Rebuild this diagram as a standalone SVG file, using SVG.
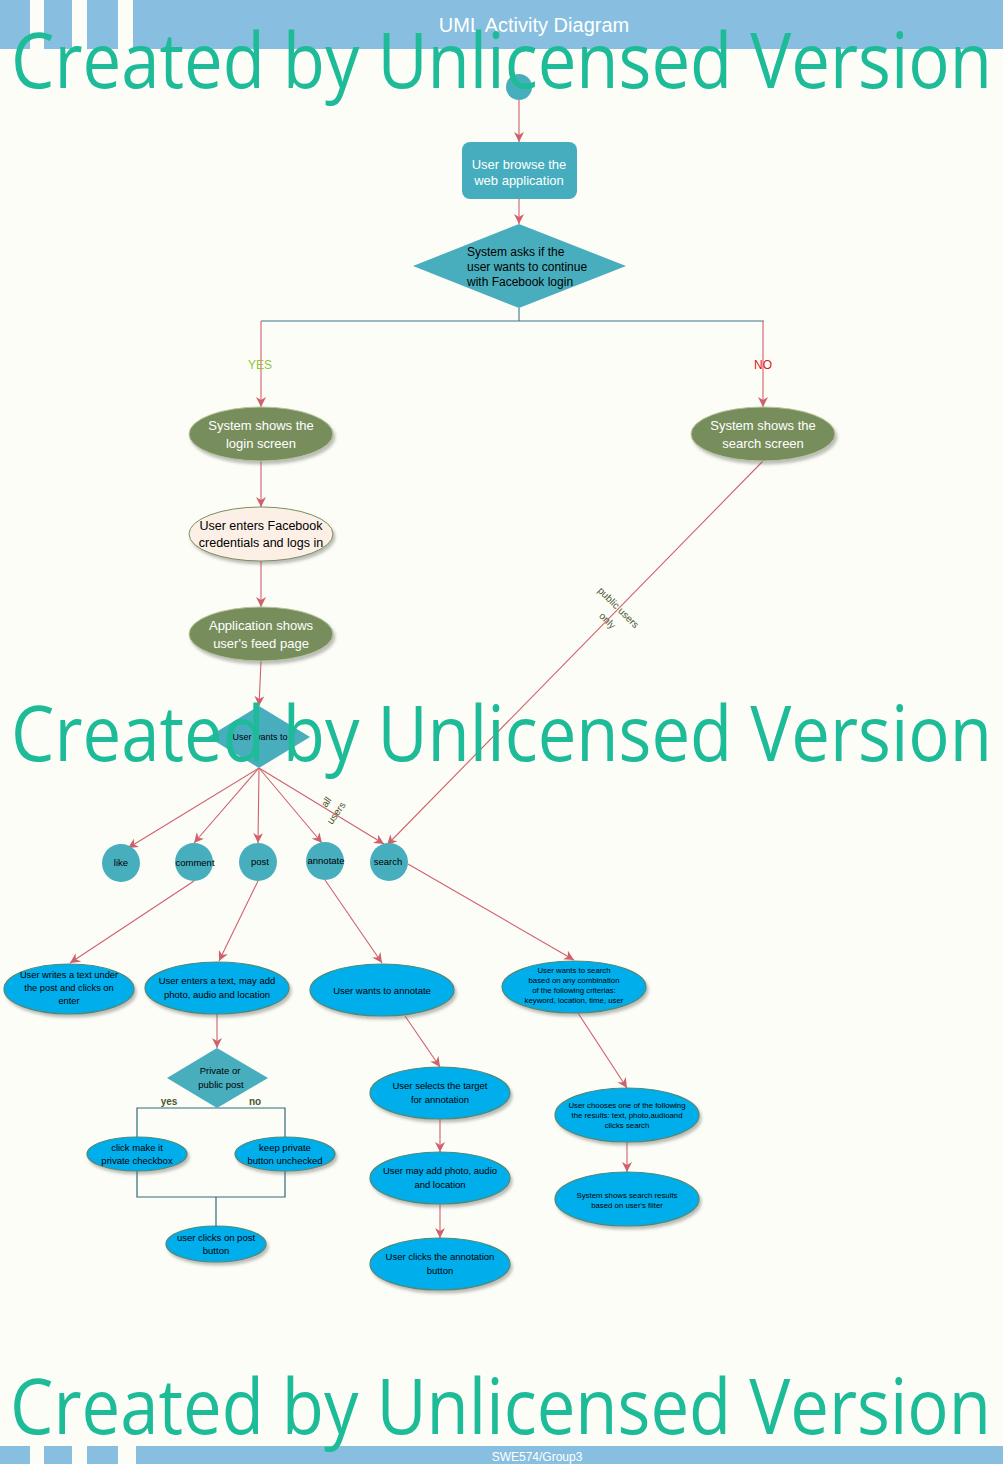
<svg xmlns="http://www.w3.org/2000/svg" width="1003" height="1464" viewBox="0 0 1003 1464">
<defs>
<marker id="ar" viewBox="0 0 10 10" refX="10" refY="5" markerWidth="10" markerHeight="10" markerUnits="userSpaceOnUse" orient="auto">
<path d="M0,0 L10,5 L0,10 L3,5 Z" fill="#D0606C"/>
</marker>
<filter id="sh" x="-20%" y="-20%" width="140%" height="150%">
<feDropShadow dx="2" dy="3" stdDeviation="1.5" flood-color="#707070" flood-opacity="0.45"/>
</filter>
</defs>
<style>
.bg{fill:#FDFDF7}
.band{fill:#88BFE0}
.wm{font-family:"Open Sans","Noto Sans",sans-serif;font-size:76px;fill:#1DBB98}
.ln{stroke:#D0606C;stroke-width:1.1;fill:none}
.bl{stroke:#3C7590;stroke-width:1.1;fill:none}
.tl{stroke:#2E6A7A;stroke-width:1.2;fill:none}
.olive{fill:#778E5C;stroke:#B7C49E;stroke-width:1;filter:url(#sh)}
.cream{fill:#FBEFE6;stroke:#7A8F5C;stroke-width:1;filter:url(#sh)}
.blue{fill:#03AEEC;stroke:#4D8A78;stroke-width:1.2;filter:url(#sh)}
.teal{fill:#47AEBE}
.tw{font-family:"Liberation Sans",Arial,sans-serif;fill:#FFFFFF;text-anchor:middle}
.tb{font-family:"Liberation Sans",Arial,sans-serif;fill:#000000;text-anchor:middle}
.lab{font-family:"Liberation Sans",Arial,sans-serif;font-size:10px;fill:#4A5530;text-anchor:middle}
</style>
<rect class="bg" x="0" y="0" width="1003" height="1464"/>
<!-- header -->
<rect class="band" x="0" y="0" width="1003" height="49"/>
<rect fill="#FDFDF7" x="30" y="0" width="14" height="49"/>
<rect fill="#FDFDF7" x="72" y="0" width="15" height="49"/>
<rect fill="#FDFDF7" x="118" y="0" width="15" height="49"/>
<text x="534" y="32" font-family="Liberation Sans, Arial, sans-serif" font-size="20" fill="#FFFFFF" text-anchor="middle">UML Activity Diagram</text>
<!-- footer -->
<rect class="band" x="0" y="1446" width="30" height="18"/>
<rect class="band" x="44" y="1446" width="28" height="18"/>
<rect class="band" x="87" y="1446" width="31" height="18"/>
<rect class="band" x="136" y="1446" width="867" height="18"/>
<text x="537" y="1461" font-family="Liberation Sans, Arial, sans-serif" font-size="12" fill="#FFFFFF" text-anchor="middle">SWE574/Group3</text>

<g id="connectors">
<line class="ln" x1="519" y1="100" x2="519" y2="142" marker-end="url(#ar)"/>
<line class="ln" x1="519" y1="199" x2="519" y2="224" marker-end="url(#ar)"/>
<polyline class="bl" points="519,308 519,321"/>
<line class="bl" x1="261" y1="321" x2="764" y2="321"/>
<line class="ln" x1="261" y1="321" x2="261" y2="407" marker-end="url(#ar)"/>
<line class="ln" x1="763" y1="321" x2="763" y2="407" marker-end="url(#ar)"/>
<text x="260" y="369" font-family="Liberation Sans, Arial, sans-serif" font-size="12" fill="#8CC63F" text-anchor="middle">YES</text>
<text x="763" y="369" font-family="Liberation Sans, Arial, sans-serif" font-size="12" fill="#E01818" text-anchor="middle">NO</text>
<line class="ln" x1="261" y1="461" x2="261" y2="507" marker-end="url(#ar)"/>
<line class="ln" x1="261" y1="561" x2="261" y2="607" marker-end="url(#ar)"/>
<line class="ln" x1="261" y1="661" x2="259" y2="706" marker-end="url(#ar)"/>
<line class="ln" x1="763" y1="461" x2="387" y2="845" marker-end="url(#ar)"/>
<text class="lab" transform="translate(616,610) rotate(45)">public users</text>
<text class="lab" transform="translate(605,623) rotate(45)">only</text>
<line class="ln" x1="259" y1="768" x2="128" y2="848" marker-end="url(#ar)"/>
<line class="ln" x1="259" y1="768" x2="194" y2="843" marker-end="url(#ar)"/>
<line class="ln" x1="259" y1="768" x2="258" y2="843" marker-end="url(#ar)"/>
<line class="ln" x1="259" y1="768" x2="322" y2="843" marker-end="url(#ar)"/>
<line class="ln" x1="259" y1="768" x2="384" y2="844" marker-end="url(#ar)"/>
<text class="lab" transform="translate(329,804) rotate(-55)">all</text>
<text class="lab" transform="translate(339,815) rotate(-55)">users</text>
<line class="ln" x1="194" y1="881" x2="70" y2="963" marker-end="url(#ar)"/>
<line class="ln" x1="258" y1="881" x2="219" y2="961" marker-end="url(#ar)"/>
<line class="ln" x1="325" y1="880" x2="382" y2="963" marker-end="url(#ar)"/>
<line class="ln" x1="408" y1="864" x2="574" y2="960" marker-end="url(#ar)"/>
<line class="ln" x1="217" y1="1014" x2="217" y2="1048" marker-end="url(#ar)"/>
<polyline class="tl" points="137,1138 137,1108 285,1108 285,1138"/>
<polyline class="tl" points="137,1171 137,1197 285,1197 285,1171"/>
<line class="tl" x1="216" y1="1197" x2="216" y2="1227"/>
<text x="169" y="1105" font-family="Liberation Sans, Arial, sans-serif" font-size="10" font-weight="bold" fill="#4A5530" text-anchor="middle">yes</text>
<text x="255" y="1105" font-family="Liberation Sans, Arial, sans-serif" font-size="10" font-weight="bold" fill="#4A5530" text-anchor="middle">no</text>
<line class="ln" x1="405" y1="1016" x2="440" y2="1067" marker-end="url(#ar)"/>
<line class="ln" x1="440" y1="1119" x2="440" y2="1152" marker-end="url(#ar)"/>
<line class="ln" x1="440" y1="1204" x2="440" y2="1238" marker-end="url(#ar)"/>
<line class="ln" x1="578" y1="1013" x2="627" y2="1088" marker-end="url(#ar)"/>
<line class="ln" x1="627" y1="1142" x2="627" y2="1172" marker-end="url(#ar)"/>
</g>

<g id="start"><circle class="teal" cx="519" cy="87" r="13"/></g>
<g id="browse">
<rect x="462" y="142" width="115" height="57" rx="8" fill="#45ADBD"/>
<text class="tw" font-size="13" x="519" y="169">User browse the</text>
<text class="tw" font-size="13" x="519" y="185">web application</text>
</g>
<g id="decision-login">
<polygon points="519,224 626,266 519,308 413,266" fill="#48AEBE"/>
<text font-family="Liberation Sans, Arial, sans-serif" font-size="12" fill="#000" x="467" y="256">System asks if the</text>
<text font-family="Liberation Sans, Arial, sans-serif" font-size="12" fill="#000" x="467" y="271">user wants to continue</text>
<text font-family="Liberation Sans, Arial, sans-serif" font-size="12" fill="#000" x="467" y="286">with Facebook login</text>
</g>
<g id="login-screen">
<ellipse class="olive" cx="261" cy="434" rx="72" ry="27"/>
<text class="tw" font-size="13" x="261" y="430">System shows the</text>
<text class="tw" font-size="13" x="261" y="448">login screen</text>
</g>
<g id="search-screen">
<ellipse class="olive" cx="763" cy="434" rx="72" ry="27"/>
<text class="tw" font-size="13" x="763" y="430">System shows the</text>
<text class="tw" font-size="13" x="763" y="448">search screen</text>
</g>
<g id="credentials">
<ellipse class="cream" cx="261" cy="534" rx="72" ry="27"/>
<text class="tb" font-size="12.5" x="261" y="530">User enters Facebook</text>
<text class="tb" font-size="12.5" x="261" y="547">credentials and logs in</text>
</g>
<g id="feed">
<ellipse class="olive" cx="261" cy="634" rx="72" ry="27"/>
<text class="tw" font-size="13" x="261" y="630">Application shows</text>
<text class="tw" font-size="13" x="261" y="648">user's feed page</text>
</g>
<g id="decision-wants">
<polygon points="259,706 310,737 259,768 208,737" fill="#48AEBE"/>
<text class="tb" font-size="9" x="260" y="740">User wants to</text>
</g>
<g id="like"><circle class="teal" cx="121" cy="863" r="19"/><text class="tb" font-size="9.5" x="121" y="866">like</text></g>
<g id="comment"><circle class="teal" cx="194" cy="862" r="19"/><text class="tb" font-size="9.5" x="195" y="866">comment</text></g>
<g id="post"><circle class="teal" cx="258" cy="862" r="19"/><text class="tb" font-size="9.5" x="260" y="865">post</text></g>
<g id="annotate"><circle class="teal" cx="325" cy="861" r="19"/><text class="tb" font-size="9.5" x="326" y="864">annotate</text></g>
<g id="search"><circle class="teal" cx="389" cy="862" r="19"/><text class="tb" font-size="9.5" x="388" y="865">search</text></g>

<g id="write-comment">
<ellipse class="blue" cx="69" cy="989" rx="65" ry="25"/>
<text class="tb" font-size="9.3" x="69" y="978">User writes a text under</text>
<text class="tb" font-size="9.3" x="69" y="991">the post and clicks on</text>
<text class="tb" font-size="9.3" x="69" y="1004">enter</text>
</g>
<g id="enter-post">
<ellipse class="blue" cx="217" cy="988" rx="72" ry="26"/>
<text class="tb" font-size="9.5" x="217" y="984">User enters a text, may add</text>
<text class="tb" font-size="9.5" x="217" y="998">photo, audio and location</text>
</g>
<g id="want-annotate">
<ellipse class="blue" cx="382" cy="990" rx="72" ry="26"/>
<text class="tb" font-size="9.5" x="382" y="994">User wants to annotate</text>
</g>
<g id="want-search">
<ellipse class="blue" cx="574" cy="987" rx="72" ry="26"/>
<text class="tb" font-size="7.8" x="574" y="973">User wants to search</text>
<text class="tb" font-size="7.8" x="574" y="983">based on any combination</text>
<text class="tb" font-size="7.8" x="574" y="993">of the following criterias:</text>
<text class="tb" font-size="7.8" x="574" y="1003">keyword, location, time, user</text>
</g>
<g id="decision-private">
<polygon points="217,1048 268,1078 217,1108 167,1078" fill="#48AEBE"/>
<text class="tb" font-size="9.5" x="220" y="1074">Private or</text>
<text class="tb" font-size="9.5" x="221" y="1088">public post</text>
</g>
<g id="private-checkbox">
<ellipse class="blue" cx="137" cy="1154" rx="50" ry="17"/>
<text class="tb" font-size="9.5" x="137" y="1151">click make it</text>
<text class="tb" font-size="9.5" x="137" y="1164">private checkbox</text>
</g>
<g id="keep-private">
<ellipse class="blue" cx="285" cy="1154" rx="50" ry="17"/>
<text class="tb" font-size="9.5" x="285" y="1151">keep private</text>
<text class="tb" font-size="9.5" x="285" y="1164">button unchecked</text>
</g>
<g id="click-post">
<ellipse class="blue" cx="216" cy="1244" rx="50" ry="18"/>
<text class="tb" font-size="9.5" x="216" y="1241">user clicks on post</text>
<text class="tb" font-size="9.5" x="216" y="1254">button</text>
</g>
<g id="select-target">
<ellipse class="blue" cx="440" cy="1093" rx="70" ry="26"/>
<text class="tb" font-size="9.5" x="440" y="1089">User selects the target</text>
<text class="tb" font-size="9.5" x="440" y="1103">for annotation</text>
</g>
<g id="add-photo">
<ellipse class="blue" cx="440" cy="1178" rx="70" ry="26"/>
<text class="tb" font-size="9.5" x="440" y="1174">User may add photo, audio</text>
<text class="tb" font-size="9.5" x="440" y="1188">and location</text>
</g>
<g id="click-annotation">
<ellipse class="blue" cx="440" cy="1264" rx="70" ry="26"/>
<text class="tb" font-size="9.5" x="440" y="1260">User clicks the annotation</text>
<text class="tb" font-size="9.5" x="440" y="1274">button</text>
</g>
<g id="choose-results">
<ellipse class="blue" cx="627" cy="1115" rx="72" ry="27"/>
<text class="tb" font-size="7.8" x="627" y="1108">User chooses one of the following</text>
<text class="tb" font-size="7.8" x="627" y="1118">the results: text, photo,audioand</text>
<text class="tb" font-size="7.8" x="627" y="1128">clicks search</text>
</g>
<g id="show-results">
<ellipse class="blue" cx="627" cy="1199" rx="72" ry="27"/>
<text class="tb" font-size="7.8" x="627" y="1198">System shows search results</text>
<text class="tb" font-size="7.8" x="627" y="1208">based on user's filter</text>
</g>

<g id="watermarks">
<text class="wm" x="11" y="88" textLength="981" lengthAdjust="spacingAndGlyphs">Created by Unlicensed Version</text>
<text class="wm" x="11" y="761" textLength="981" lengthAdjust="spacingAndGlyphs">Created by Unlicensed Version</text>
<text class="wm" x="10" y="1434" textLength="981" lengthAdjust="spacingAndGlyphs">Created by Unlicensed Version</text>
</g>
</svg>
